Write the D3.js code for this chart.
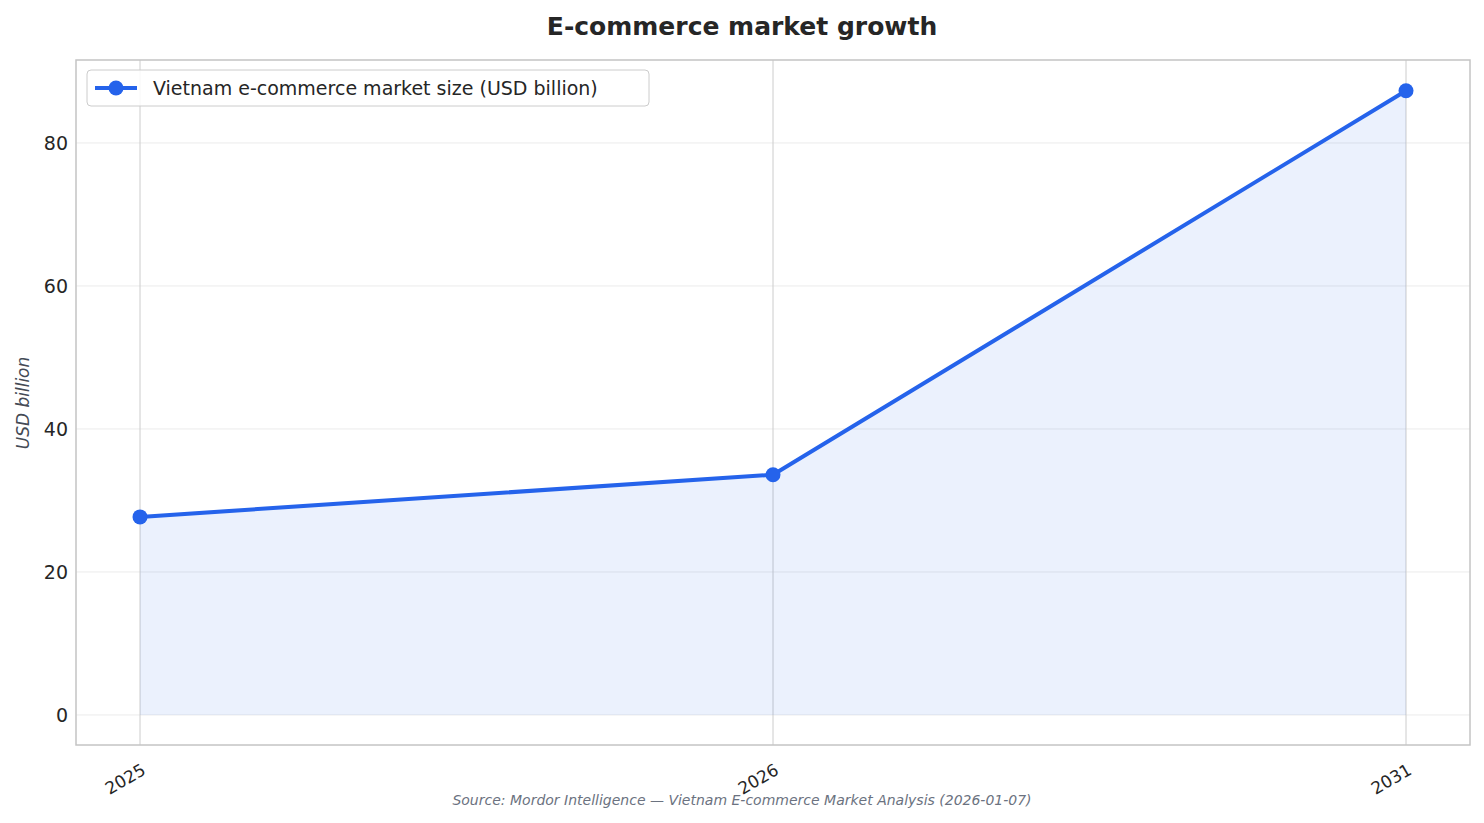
<!DOCTYPE html>
<html><head><meta charset="utf-8">
<script src="https://cdn.jsdelivr.net/npm/d3@7"></script>
<style>body{margin:0;background:#fff;font-family:"DejaVu Sans",sans-serif}</style>
</head><body>
<svg id="c" width="1484" height="823"></svg>
<script>
const categories = ["2025","2026","2031"];
const values = [27.7, 33.6, 87.3];
const yTicks = [0,20,40,60,80];
const seriesName = "Vietnam e-commerce market size (USD billion)";

const svg = d3.select("#c");
const L=76,R=1470,T=60,B=745;
const x = d3.scalePoint().domain(categories).range([140,1406]);
const y = d3.scaleLinear().domain([-4.2,91.6]).range([B,T]);
const color="#2563eb";

// grid
svg.append("g").selectAll("line").data(yTicks).join("line")
 .attr("x1",L).attr("x2",R).attr("y1",d=>y(d)).attr("y2",d=>y(d))
 .attr("stroke","#ebebeb").attr("stroke-width",1);
svg.append("g").selectAll("line").data(categories).join("line")
 .attr("x1",d=>x(d)).attr("x2",d=>x(d)).attr("y1",T).attr("y2",B)
 .attr("stroke","#cccccc").attr("stroke-width",1);

const data = categories.map((c,i)=>({c,v:values[i]}));
svg.append("path").datum(data)
 .attr("d",d3.area().x(d=>x(d.c)).y0(y(0)).y1(d=>y(d.v)))
 .attr("fill",color).attr("fill-opacity",0.09);
svg.append("path").datum(data)
 .attr("d",d3.line().x(d=>x(d.c)).y(d=>y(d.v)))
 .attr("fill","none").attr("stroke",color).attr("stroke-width",4);
svg.append("g").selectAll("circle").data(data).join("circle")
 .attr("cx",d=>x(d.c)).attr("cy",d=>y(d.v)).attr("r",7.5).attr("fill",color);

svg.append("rect").attr("x",L).attr("y",T).attr("width",R-L).attr("height",B-T)
 .attr("fill","none").attr("stroke","#c4c4c4").attr("stroke-width",1.5);

// y ticks
svg.append("g").selectAll("text").data(yTicks).join("text")
 .attr("x",68).attr("y",d=>y(d)).attr("dy","0.35em").attr("text-anchor","end")
 .attr("font-size",19).attr("fill","#262626").text(d=>d);
// x ticks
svg.append("g").selectAll("text").data(categories).join("text")
 .attr("transform",d=>`translate(${x(d)+1},${B+18}) rotate(-30)`)
 .attr("text-anchor","end").attr("dy","0.7em")
 .attr("font-size",17).attr("fill","#262626").text(d=>d);

svg.append("text").attr("x",742).attr("y",35).attr("text-anchor","middle")
 .attr("font-size",25).attr("font-weight","bold").attr("fill","#262626").text("E-commerce market growth");
svg.append("text").attr("transform","translate(29,403) rotate(-90)").attr("text-anchor","middle")
 .attr("font-size",17).attr("font-style","italic").attr("fill","#444a55").text("USD billion");
svg.append("text").attr("x",742).attr("y",805).attr("text-anchor","middle")
 .attr("font-size",14).attr("font-style","italic").attr("fill","#6b7280")
 .text("Source: Mordor Intelligence — Vietnam E-commerce Market Analysis (2026-01-07)");

// legend
const lg=svg.append("g");
lg.append("rect").attr("x",87).attr("y",70).attr("width",562).attr("height",36).attr("rx",4)
 .attr("fill","#fff").attr("fill-opacity",0.85).attr("stroke","#cccccc");
lg.append("line").attr("x1",95).attr("x2",137).attr("y1",88).attr("y2",88).attr("stroke",color).attr("stroke-width",4);
lg.append("circle").attr("cx",116).attr("cy",88).attr("r",7.5).attr("fill",color);
lg.append("text").attr("x",153).attr("y",88).attr("dy","0.35em").attr("font-size",19).attr("fill","#262626").text(seriesName);
</script>
</body></html>
